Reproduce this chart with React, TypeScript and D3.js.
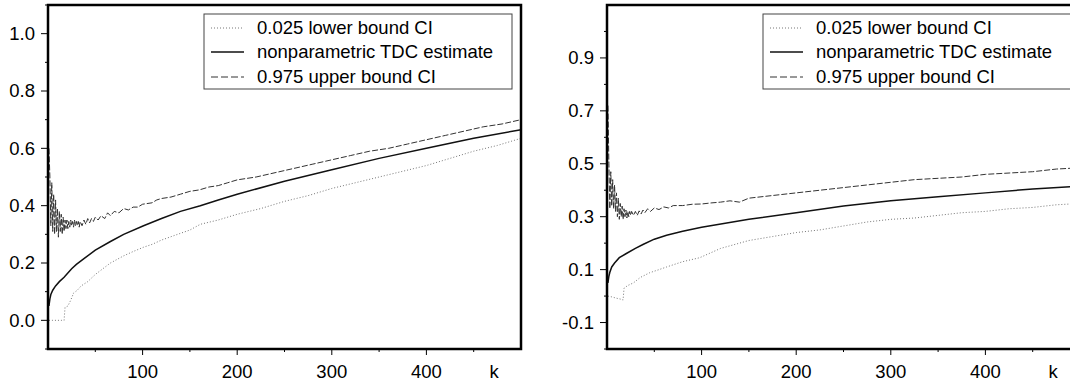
import React from "react";
import * as d3 from "d3";

type Pt = [number, number];

// ---------- Left panel data (k, value) ----------
const lowerLeft: Pt[] = [
  [1, 0.0], [5, 0.0], [10, 0.0], [14, 0.0], [17, 0.0], [18, 0.045], [21, 0.05], [24, 0.07],
  [27, 0.095], [31, 0.105], [35, 0.12], [42, 0.135], [50, 0.16], [58, 0.18], [66, 0.2],
  [80, 0.225], [90, 0.24], [101, 0.255], [110, 0.265], [120, 0.28], [137, 0.3], [150, 0.315], [161, 0.335],
  [180, 0.35], [200, 0.37], [225, 0.39], [250, 0.415], [275, 0.435], [300, 0.46], [325, 0.48],
  [350, 0.5], [375, 0.52], [400, 0.54], [425, 0.565], [450, 0.59], [475, 0.61], [500, 0.635],
];
const estimateLeft: Pt[] = [
  [1, 0.05], [2, 0.075], [3, 0.09], [5, 0.105], [8, 0.12], [12, 0.135], [17, 0.15], [25, 0.18],
  [30, 0.195], [38, 0.215], [50, 0.245], [66, 0.275], [80, 0.3], [101, 0.33], [120, 0.355],
  [140, 0.38], [161, 0.4], [180, 0.42], [200, 0.44], [250, 0.485], [300, 0.525], [350, 0.565],
  [400, 0.6], [450, 0.635], [500, 0.665],
];
const upperLeft: Pt[] = [
  [1, 0.6], [2, 0.5], [3, 0.33], [4, 0.48], [5, 0.31], [6, 0.44], [7, 0.3], [8, 0.42], [9, 0.31],
  [10, 0.39], [11, 0.29], [12, 0.38], [13, 0.31], [14, 0.37], [15, 0.3], [16, 0.36], [17, 0.31],
  [18, 0.35], [19, 0.32], [20, 0.35], [21, 0.32], [22, 0.345], [23, 0.325], [24, 0.35], [25, 0.33],
  [26, 0.345], [27, 0.325], [28, 0.35], [29, 0.33], [30, 0.345], [31, 0.33], [32, 0.345],
  [33, 0.325], [34, 0.345], [36, 0.33], [38, 0.35], [40, 0.335], [42, 0.355], [44, 0.34],
  [46, 0.355], [48, 0.345], [50, 0.36], [53, 0.35], [56, 0.365], [60, 0.355], [63, 0.375],
  [66, 0.365], [70, 0.38], [75, 0.375], [80, 0.39], [85, 0.385], [90, 0.395], [95, 0.395],
  [100, 0.405], [110, 0.41], [115, 0.42], [120, 0.425], [130, 0.43], [140, 0.44], [150, 0.45],
  [160, 0.455], [170, 0.465], [180, 0.47], [190, 0.48], [200, 0.49], [220, 0.5], [240, 0.515],
  [260, 0.53], [280, 0.545], [300, 0.56], [320, 0.575], [340, 0.59], [360, 0.6], [380, 0.615],
  [400, 0.63], [420, 0.645], [440, 0.66], [460, 0.675], [480, 0.685], [500, 0.7],
];

// ---------- Right panel data (k, value) ----------
const lowerRight: Pt[] = [
  [1, 0.0], [5, -0.003], [10, -0.008], [15, -0.012], [17, -0.015], [18, 0.03], [22, 0.04],
  [28, 0.05], [35, 0.07], [45, 0.088], [55, 0.1], [63, 0.11], [80, 0.13], [98, 0.145],
  [120, 0.18], [150, 0.21], [175, 0.225], [200, 0.24], [225, 0.25], [250, 0.265], [275, 0.28],
  [300, 0.29], [325, 0.295], [350, 0.305], [375, 0.315], [400, 0.32], [425, 0.33], [450, 0.335],
  [475, 0.345], [500, 0.35],
];
const estimateRight: Pt[] = [
  [1, 0.05], [2, 0.075], [3, 0.09], [5, 0.11], [8, 0.125], [13, 0.145], [20, 0.16], [30, 0.18],
  [38, 0.195], [50, 0.215], [63, 0.23], [80, 0.245], [100, 0.26], [125, 0.275], [150, 0.29],
  [200, 0.315], [250, 0.34], [300, 0.36], [350, 0.375], [400, 0.39], [450, 0.405], [500, 0.415],
];
const upperRight: Pt[] = [
  [1, 0.72], [2, 0.5], [3, 0.33], [4, 0.47], [5, 0.34], [6, 0.44], [7, 0.33], [8, 0.42], [9, 0.32],
  [10, 0.39], [11, 0.3], [12, 0.37], [13, 0.29], [14, 0.35], [15, 0.3], [16, 0.34], [17, 0.29],
  [18, 0.33], [19, 0.3], [20, 0.325], [21, 0.295], [22, 0.32], [23, 0.3], [24, 0.32], [25, 0.305],
  [26, 0.32], [28, 0.305], [30, 0.32], [32, 0.305], [34, 0.322], [36, 0.31], [38, 0.325],
  [40, 0.315], [43, 0.33], [46, 0.32], [50, 0.333], [55, 0.327], [60, 0.337], [65, 0.333],
  [70, 0.342], [80, 0.342], [90, 0.347], [100, 0.348], [110, 0.352], [120, 0.355],
  [130, 0.36], [140, 0.355], [150, 0.37], [175, 0.38], [200, 0.39], [225, 0.4], [250, 0.41],
  [275, 0.42], [300, 0.43], [325, 0.44], [350, 0.445], [375, 0.45], [400, 0.46], [425, 0.465],
  [450, 0.47], [475, 0.48], [500, 0.485],
];

// ---------- Ticks ----------
const xMajorTicks = [100, 200, 300, 400];
const xMinorTicks = [50, 150, 250, 350, 450];
const leftYMajor = [0.0, 0.2, 0.4, 0.6, 0.8, 1.0];
const leftYMinor = [-0.1, 0.1, 0.3, 0.5, 0.7, 0.9, 1.1];
const rightYMajor = [-0.1, 0.1, 0.3, 0.5, 0.7, 0.9];
const rightYMinor = [-0.2, 0.0, 0.2, 0.4, 0.6, 0.8, 1.0];

const legendLabels = ["0.025 lower bound CI", "nonparametric TDC estimate", "0.975 upper bound CI"];
const axisLabel = "k";

const FONT = "'Liberation Sans', Arial, Helvetica, sans-serif";
const FS = 18.5;

interface PanelProps {
  x0: number;
  yDomain: [number, number];
  yMajor: number[];
  yMinor: number[];
  lower: Pt[];
  estimate: Pt[];
  upper: Pt[];
}

const TOP = 5;
const BOTTOM = 349;
const WIDTH = 473;

const fmt = (t: number) => d3.format(".1f")(t).replace("\u2212", "-");

function Panel({ x0, yDomain, yMajor, yMinor, lower, estimate, upper }: PanelProps) {
  const x = d3.scaleLinear().domain([0, 500]).range([x0, x0 + WIDTH]);
  const y = d3.scaleLinear().domain(yDomain).range([BOTTOM, TOP]);
  const line = d3
    .line<Pt>()
    .x((d) => x(d[0]))
    .y((d) => y(d[1]));

  const lx = x0 + 156;
  const rows = [28, 52, 77];
  const styles = [
    { stroke: "#777", dash: "1,2", width: 1 },
    { stroke: "#111", dash: undefined as string | undefined, width: 1.5 },
    { stroke: "#333", dash: "6,2", width: 1 },
  ];
  const series = [lower, estimate, upper];

  return (
    <g>
      {series.map((s, i) => (
        <path
          key={i}
          d={line(s) || ""}
          fill="none"
          stroke={styles[i].stroke}
          strokeWidth={styles[i].width}
          strokeDasharray={styles[i].dash}
        />
      ))}
      {/* legend */}
      <rect x={lx} y={14} width={308} height={75} fill="white" stroke="#444" strokeWidth={1} />
      {legendLabels.map((lab, i) => (
        <g key={lab}>
          <line
            x1={lx + 7}
            x2={lx + 40}
            y1={rows[i]}
            y2={rows[i]}
            stroke={styles[i].stroke}
            strokeWidth={i === 1 ? 1.3 : 1}
            strokeDasharray={i === 2 ? "7,3" : styles[i].dash}
          />
          <text x={lx + 53} y={rows[i]} dy="0.35em" fontSize={FS} fontFamily={FONT} fill="#000">
            {lab}
          </text>
        </g>
      ))}
      {/* frame */}
      <rect
        x={x0}
        y={TOP}
        width={WIDTH}
        height={BOTTOM - TOP}
        fill="none"
        stroke="#000"
        strokeWidth={2.5}
      />
      {/* x ticks */}
      {xMajorTicks.map((t) => (
        <g key={"xm" + t}>
          <line x1={x(t)} x2={x(t)} y1={BOTTOM} y2={BOTTOM + 6} stroke="#000" strokeWidth={1} />
          <text x={x(t)} y={378} textAnchor="middle" fontSize={FS} fontFamily={FONT}>
            {t}
          </text>
        </g>
      ))}
      {xMinorTicks.map((t) => (
        <line key={"xn" + t} x1={x(t)} x2={x(t)} y1={BOTTOM} y2={BOTTOM + 3} stroke="#000" strokeWidth={1} />
      ))}
      <text x={x0 + 446} y={378} textAnchor="middle" fontSize={FS} fontFamily={FONT}>
        {axisLabel}
      </text>
      {/* y ticks */}
      {yMajor.map((t) => (
        <g key={"ym" + t}>
          <line x1={x0 - 7} x2={x0} y1={y(t)} y2={y(t)} stroke="#000" strokeWidth={1} />
          <text x={x0 - 13} y={y(t)} dy="0.35em" textAnchor="end" fontSize={FS} fontFamily={FONT}>
            {fmt(t)}
          </text>
        </g>
      ))}
      {yMinor.map((t) => (
        <line key={"yn" + t} x1={x0 - 3} x2={x0} y1={y(t)} y2={y(t)} stroke="#000" strokeWidth={1} />
      ))}
    </g>
  );
}

export default function App() {
  return (
    <svg
      width={1070}
      height={387}
      style={{ position: "absolute", left: 0, top: 0, background: "white" }}
    >
      <rect x={0} y={0} width={1070} height={387} fill="white" />
      <Panel
        x0={48}
        yDomain={[-0.1, 1.1]}
        yMajor={leftYMajor}
        yMinor={leftYMinor}
        lower={lowerLeft}
        estimate={estimateLeft}
        upper={upperLeft}
      />
      <Panel
        x0={607}
        yDomain={[-0.2, 1.1]}
        yMajor={rightYMajor}
        yMinor={rightYMinor}
        lower={lowerRight}
        estimate={estimateRight}
        upper={upperRight}
      />
    </svg>
  );
}
